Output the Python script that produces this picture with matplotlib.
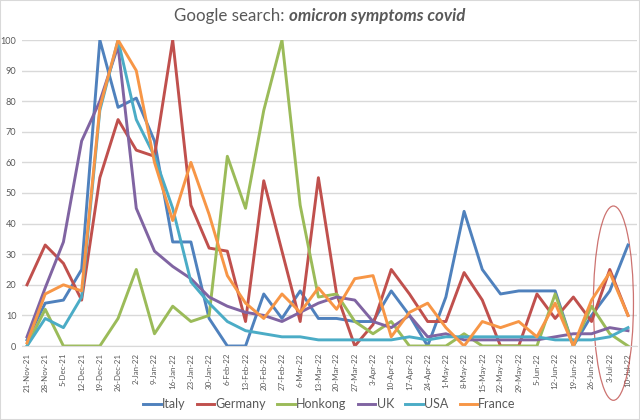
import matplotlib
matplotlib.use('Agg')
import matplotlib.pyplot as plt
from matplotlib.patches import Ellipse, Rectangle

plt.rcParams['font.family'] = ['Lato', 'DejaVu Sans']

weeks = ['21-Nov-21', '28-Nov-21', '5-Dec-21', '12-Dec-21', '19-Dec-21', '26-Dec-21',
         '2-Jan-22', '9-Jan-22', '16-Jan-22', '23-Jan-22', '30-Jan-22', '6-Feb-22',
         '13-Feb-22', '20-Feb-22', '27-Feb-22', '6-Mar-22', '13-Mar-22', '20-Mar-22',
         '27-Mar-22', '3-Apr-22', '10-Apr-22', '17-Apr-22', '24-Apr-22', '1-May-22',
         '8-May-22', '15-May-22', '22-May-22', '29-May-22', '5-Jun-22', '12-Jun-22',
         '19-Jun-22', '26-Jun-22', '3-Jul-22', '10-Jul-22']

italy = [2, 14, 15, 25, 100, 78, 81, 67, 34, 34, 9, 0, 0, 17, 9, 18, 9, 9,
         8, 8, 18, 10, 0, 16, 44, 25, 17, 18, 18, 18, 0, 10, 18, 33]
germany = [20, 33, 27, 15, 55, 74, 64, 62, 100, 46, 32, 31, 8, 54, 31, 8, 55, 17,
           0, 7, 25, 17, 8, 8, 24, 15, 0, 0, 17, 9, 16, 8, 25, 10]
honkong = [0, 12, 0, 0, 0, 9, 25, 4, 13, 8, 10, 62, 45, 77, 100, 46, 16, 17,
           8, 4, 8, 0, 0, 0, 4, 0, 0, 0, 0, 17, 0, 13, 4, 0]
uk = [3, 19, 34, 67, 80, 98, 45, 31, 26, 22, 16, 13, 11, 10, 8, 11, 14, 16,
      15, 8, 6, 10, 3, 4, 2, 2, 2, 2, 2, 3, 4, 4, 6, 5]
usa = [0, 9, 6, 16, 77, 100, 74, 62, 45, 21, 14, 8, 5, 4, 3, 3, 2, 2,
       2, 2, 2, 3, 2, 3, 3, 3, 3, 3, 3, 2, 2, 2, 3, 6]
france = [1, 17, 20, 18, 78, 100, 90, 60, 41, 60, 43, 23, 14, 9, 17, 11, 19, 12,
          22, 23, 3, 11, 14, 6, 0, 8, 6, 8, 3, 14, 0, 15, 24, 10]

series = [('Italy', italy, '#4f81bd'), ('Germany', germany, '#c0504d'),
          ('Honkong', honkong, '#9bbb59'), ('UK', uk, '#8064a2'),
          ('USA', usa, '#4bacc6'), ('France', france, '#f79646')]

grey = '#595959'
fig = plt.figure(figsize=(6.4, 4.2), dpi=100)
ax = fig.add_axes([22 / 640, 1 - 346 / 420, 615 / 640, 306 / 420])

x = list(range(len(weeks)))
for name, vals, col in series:
    ax.plot(x, vals, color=col, lw=2.1, label=name, solid_joinstyle='round')

# first week sits at ~27px, last at ~628px
step = (628 - 27) / (len(weeks) - 1)
ax.set_xlim(-(27 - 22) / step, len(weeks) - 1 + (637 - 628) / step)
ax.set_ylim(0, 100)
ax.set_yticks(range(0, 101, 10))
ax.set_xticks(x)
ax.set_xticklabels(weeks, rotation=90, fontsize=5.7, color=grey)
ax.tick_params(axis='y', labelsize=6.6, labelcolor=grey, length=0, pad=4)
ax.tick_params(axis='x', length=0, pad=5)
ax.grid(axis='y', color='#d9d9d9', lw=1)
ax.set_axisbelow(True)
for s in ['top', 'right', 'left']:
    ax.spines[s].set_visible(False)
ax.spines['bottom'].set_color('#d9d9d9')

# red ellipse round the last weeks
ell = Ellipse((32.2, 14.0), 2.2, 63.5, fill=False, edgecolor='#c0504d',
              lw=0.9, clip_on=False, alpha=0.8)
ax.add_patch(ell)

# title: plain part + bold italic part, centred together
ty = 1 - 16 / 420
t1 = fig.text(0.5, ty, 'Google search: ', ha='left', va='center',
              fontsize=12.2, color=grey)
t2 = fig.text(0.5, ty, 'omicron symptoms covid', ha='left', va='center',
              fontsize=12.2, color=grey, fontweight='bold', fontstyle='italic')
r = fig.canvas.get_renderer()
w1 = t1.get_window_extent(r).width
w2 = t2.get_window_extent(r).width
x0 = 320 - (w1 + w2) / 2
t1.set_x(x0 / 640)
t2.set_x((x0 + w1) / 640)

leg = ax.legend(loc='center', bbox_to_anchor=(0.5, (346 - 404) / 306), ncol=6,
                frameon=False, fontsize=9, handlelength=1.4, handletextpad=0.1,
                columnspacing=0.9, labelcolor=grey)

fig.patches.append(Rectangle((0, 0), 1, 1, transform=fig.transFigure, fill=False,
                             edgecolor='#d9d9d9', lw=1.5))

fig.savefig('out.png', dpi=100)
